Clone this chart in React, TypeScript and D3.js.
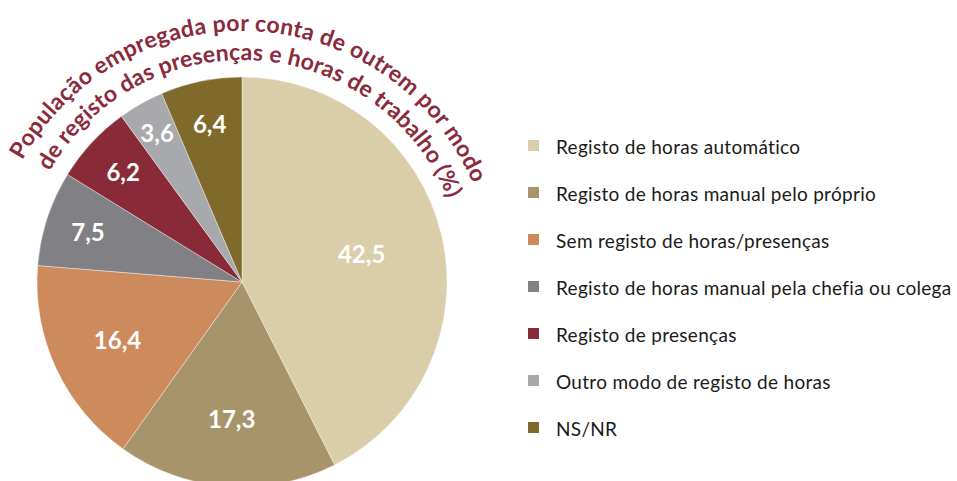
import React, { useEffect, useRef } from "react";
import * as d3 from "d3";

const categories = [
  "Registo de horas automático",
  "Registo de horas manual pelo próprio",
  "Sem registo de horas/presenças",
  "Registo de horas manual pela chefia ou colega",
  "Registo de presenças",
  "Outro modo de registo de horas",
  "NS/NR",
];
const values = [42.5, 17.3, 16.4, 7.5, 6.2, 3.6, 6.4];
const colors = ["#d9cea9", "#a8946b", "#cc8a5d", "#808085", "#882a38", "#a8a9ad", "#7f6a2b"];
const titleLines = [
  "População empregada por conta de outrem por modo",
  "de registo das presenças e horas de trabalho (%)",
];

const W = 957;
const H = 481;

export default function App() {
  const ref = useRef<SVGSVGElement>(null);

  useEffect(() => {
    const svg = d3.select(ref.current);
    svg.selectAll("*").remove();

    const cx = 242;
    const cy = 282;
    const r = 205;
    const font = "Lato, 'Open Sans', sans-serif";

    const data = categories.map((c, i) => ({ name: c, value: values[i], color: colors[i] }));
    const pie = d3.pie<any>().sort(null).value((d) => d.value);
    const arcs = pie(data);
    const arc = d3.arc<any>().innerRadius(0).outerRadius(r);

    const g = svg.append("g").attr("transform", `translate(${cx},${cy})`);

    g.selectAll("path.slice")
      .data(arcs)
      .join("path")
      .attr("class", "slice")
      .attr("d", arc)
      .attr("fill", (d) => d.data.color)
      .attr("stroke", "#ffffff")
      .attr("stroke-width", 0.4);

    // labels: bigger slices closer to the centre, small ones nearer the rim
    const labelFrac = (v: number) => (v > 30 ? 0.6 : v > 10 ? 0.67 : v < 5 ? 0.84 : 0.79);
    g.selectAll("text.lbl")
      .data(arcs)
      .join("text")
      .attr("class", "lbl")
      .attr("transform", (d) => {
        const a = (d.startAngle + d.endAngle) / 2;
        const rr = r * labelFrac(d.data.value);
        return `translate(${Math.sin(a) * rr},${-Math.cos(a) * rr})`;
      })
      .attr("text-anchor", "middle")
      .attr("dominant-baseline", "central")
      .attr("fill", "#ffffff")
      .attr("font-family", font)
      .attr("font-weight", 700)
      .attr("font-size", 24)
      .text((d) => String(d.data.value).replace(".", ","));

    // curved title, spread along arcs around the pie
    const titleArcs = [
      { r: 251, a0: -61, a1: 67 },
      { r: 222, a0: -60, a1: 68 },
    ];
    const defs = svg.append("defs");
    titleArcs.forEach((t, i) => {
      const p = d3.path();
      p.arc(cx, cy, t.r, ((t.a0 - 90) * Math.PI) / 180, ((t.a1 - 90) * Math.PI) / 180);
      defs.append("path").attr("id", `tp${i}`).attr("d", p.toString());
      const target = (t.r * (t.a1 - t.a0) * Math.PI) / 180;
      const txt = svg
        .append("text")
        .attr("fill", "#8a2a3b")
        .attr("font-family", font)
        .attr("font-weight", 700)
        .attr("font-size", 23);
      txt
        .append("textPath")
        .attr("href", `#tp${i}`)
        .attr("startOffset", "50%")
        .attr("text-anchor", "middle")
        .text(titleLines[i]);
      const natural = (txt.node() as SVGTextElement).getComputedTextLength();
      const ls = Math.max(0, (target - natural) / titleLines[i].length);
      txt.attr("letter-spacing", ls);
    });

    // legend
    const y = d3.scalePoint<string>().domain(categories).range([146, 428]);
    const leg = svg
      .append("g")
      .selectAll("g")
      .data(data)
      .join("g")
      .attr("transform", (d) => `translate(528,${y(d.name)})`);
    leg
      .append("rect")
      .attr("x", 0)
      .attr("y", -6)
      .attr("width", 11)
      .attr("height", 11)
      .attr("fill", (d) => d.color);
    leg
      .append("text")
      .attr("x", 28)
      .attr("y", 0)
      .attr("dominant-baseline", "central")
      .attr("fill", "#1a1a1a")
      .attr("font-family", font)
      .attr("font-size", 19)
      .attr("letter-spacing", 0.3)
      .text((d) => d.name);
  }, []);

  return (
    <div style={{ position: "absolute", left: 0, top: 0 }}>
      <svg ref={ref} width={W} height={H} style={{ display: "block", background: "#ffffff" }} />
    </div>
  );
}
